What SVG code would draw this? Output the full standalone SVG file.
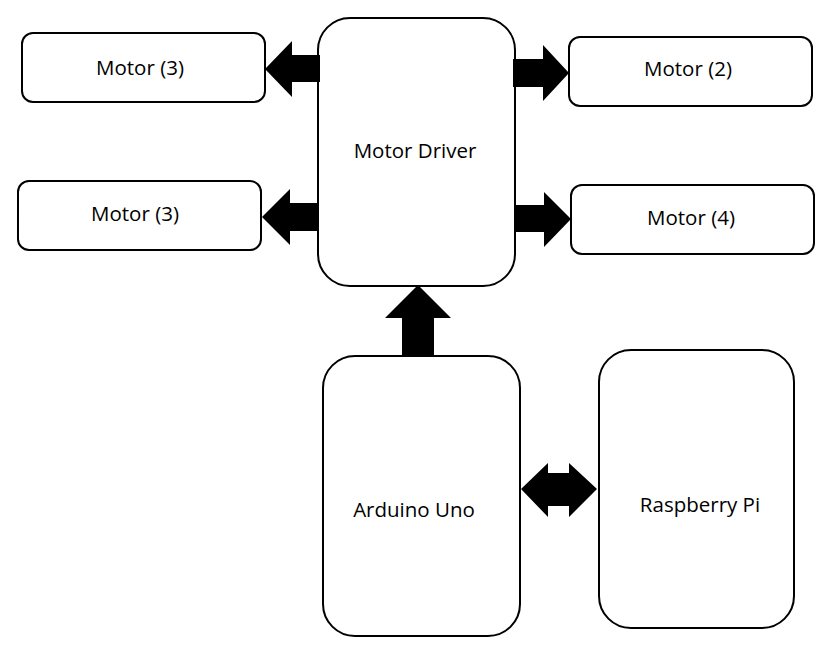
<svg xmlns="http://www.w3.org/2000/svg" width="835" height="657" viewBox="0 0 835 657">
<style>
.box{fill:#fff;stroke:#000;stroke-width:2}
.lbl{font-family:"Open Sans","Liberation Sans",sans-serif;font-size:20.5px;fill:#000;text-anchor:middle}
.arr{fill:#000;stroke:none}
</style>
<rect width="835" height="657" fill="#fff"/>
<g id="motor-driver"><rect class="box" x="318" y="18" width="197" height="268" rx="32" ry="32"/><text class="lbl" x="415" y="158">Motor Driver</text></g>
<g id="motor-3-top"><rect class="box" x="22" y="33" width="243" height="69" rx="11" ry="11"/><text class="lbl" x="140" y="75">Motor (3)</text></g>
<g id="motor-2"><rect class="box" x="569" y="37" width="243" height="69" rx="11" ry="11"/><text class="lbl" x="688" y="76">Motor (2)</text></g>
<g id="motor-3-bottom"><rect class="box" x="18" y="181" width="243" height="69" rx="11" ry="11"/><text class="lbl" x="135" y="221">Motor (3)</text></g>
<g id="motor-4"><rect class="box" x="571" y="185" width="243" height="69" rx="11" ry="11"/><text class="lbl" x="691" y="225">Motor (4)</text></g>
<g id="arduino-uno"><rect class="box" x="323" y="356" width="197" height="280" rx="32" ry="32"/><text class="lbl" x="414" y="517">Arduino Uno</text></g>
<g id="raspberry-pi"><rect class="box" x="599" y="350" width="195" height="278" rx="32" ry="32"/><text class="lbl" x="700" y="512">Raspberry Pi</text></g>
<g id="connectors">
<polygon class="arr" points="320,55 292,55 292,41 265,69 292,97 292,82 320,82"/>
<polygon class="arr" points="513,59 543,59 543,45 569,73 543,101 543,87 513,87"/>
<polygon class="arr" points="318,203 290,203 290,189 262,217 290,245 290,231 318,231"/>
<polygon class="arr" points="515,205 544,205 544,192 571,219 544,247 544,232 515,232"/>
<polygon class="arr" points="402,357 402,318 385,318 418,285 451,318 434,318 434,357"/>
<polygon class="arr" points="521,489 548,463 548,473 569,473 569,463 597,489 569,517 569,506 548,506 548,517"/>
</g>
</svg>
